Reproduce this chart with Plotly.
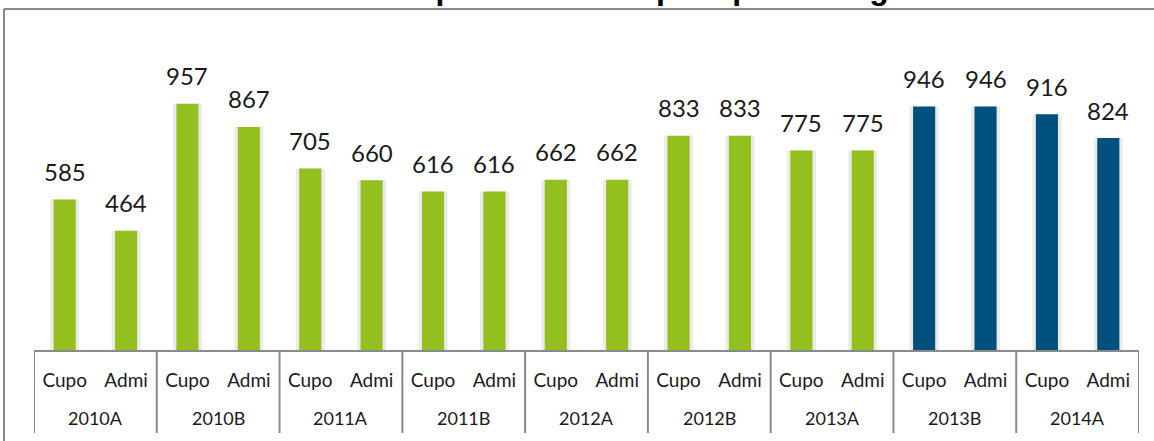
import plotly.graph_objects as go

# ---- data ----
periods = ["2010A", "2010B", "2011A", "2011B", "2012A", "2012B", "2013A", "2013B", "2014A"]
kinds = ["Cupo", "Admi"]
cupos = [585, 957, 705, 616, 662, 833, 775, 946, 916]
admitidos = [464, 867, 660, 616, 662, 833, 775, 946, 824]
highlight_periods = ["2013B", "2014A"]
title_text = "Gráfica 1. Cupos ofertados para primer ingreso"

# ---- styling ----
GREEN = "#93C01F"
BLUE = "#00507D"
SHADOW = "#EAEAEA"
AXIS_GRAY = "#8A8A8A"
TEXT = "#1A1A1A"

W, H = 1154, 441
M_L, M_R, M_T, M_B = 34, 15, 67, 91
plot_h = H - M_T - M_B
plot_w = W - M_L - M_R
Y_MAX = 1100

inner = []
outer = []
values = []
colors = []
for p, c, a in zip(periods, cupos, admitidos):
    col = BLUE if p in highlight_periods else GREEN
    for k, v in zip(kinds, (c, a)):
        outer.append(p)
        inner.append(k)
        values.append(v)
        colors.append(col)
xpos = list(range(len(values)))
n_k = len(kinds)


def px_to_paper_x(px):
    return (px - M_L) / plot_w


def px_to_paper_y(py):
    return (H - M_B - py) / plot_h


fig = go.Figure()
# soft shadow behind each bar
fig.add_trace(go.Bar(x=xpos, y=values, width=0.47,
                     marker=dict(color=SHADOW, line=dict(width=0)),
                     hoverinfo="skip", showlegend=False))
fig.add_trace(go.Bar(x=xpos, y=values, width=0.36,
                     marker=dict(color=colors, line=dict(width=0)),
                     customdata=outer, showlegend=False))

annotations = []
for i, v in zip(xpos, values):
    annotations.append(dict(x=i, y=v, xref="x", yref="y", text=str(v),
                            showarrow=False, yanchor="middle", yshift=28,
                            font=dict(family="Lato", size=24, color=TEXT)))

# outer (period) labels and group dividers
shapes = []
for g, p in enumerate(periods):
    annotations.append(dict(x=g * n_k + (n_k - 1) / 2, y=px_to_paper_y(418), xref="x", yref="paper",
                            text=p, showarrow=False, xanchor="center", yanchor="middle",
                            font=dict(family="Lato", size=18, color=TEXT)))
for g in range(len(periods) + 1):
    shapes.append(dict(type="line", xref="x", yref="paper",
                       x0=g * n_k - 0.5, x1=g * n_k - 0.5,
                       y0=0, y1=px_to_paper_y(433),
                       line=dict(color=AXIS_GRAY, width=2)))

# title (mostly cut off above the page, as in the reference)
annotations.append(dict(x=px_to_paper_x(597), y=px_to_paper_y(-12), xref="paper", yref="paper",
                        text="<b>" + title_text + "</b>", showarrow=False,
                        xanchor="center", yanchor="middle",
                        font=dict(family="Liberation Sans", size=32, color="#000000")))

# outer chart frame (top and left edges visible)
shapes.append(dict(type="line", xref="paper", yref="paper",
                   x0=px_to_paper_x(4), x1=px_to_paper_x(1400),
                   y0=px_to_paper_y(9), y1=px_to_paper_y(9),
                   line=dict(color=AXIS_GRAY, width=2)))
shapes.append(dict(type="line", xref="paper", yref="paper",
                   x0=px_to_paper_x(4), x1=px_to_paper_x(4),
                   y0=px_to_paper_y(9), y1=px_to_paper_y(700),
                   line=dict(color=AXIS_GRAY, width=2)))

fig.update_layout(
    width=W, height=H,
    margin=dict(l=M_L, r=M_R, t=M_T, b=M_B, pad=0),
    barmode="overlay",
    plot_bgcolor="white", paper_bgcolor="white",
    annotations=annotations, shapes=shapes,
    font=dict(family="Lato", color=TEXT),
)
fig.update_xaxes(range=[-0.5, len(values) - 0.5], tickmode="array", tickvals=xpos, ticktext=inner,
                 showline=True, linecolor=AXIS_GRAY, linewidth=2,
                 ticks="outside", ticklen=12, tickcolor="rgba(0,0,0,0)",
                 tickfont=dict(family="Lato", size=19, color=TEXT), showgrid=False, zeroline=False)
fig.update_yaxes(range=[0, Y_MAX], visible=False, showgrid=False, zeroline=False)

fig.write_html("out.html", config={"displayModeBar": False},
               post_script="document.body.style.margin='0';document.body.style.overflow='hidden';")
